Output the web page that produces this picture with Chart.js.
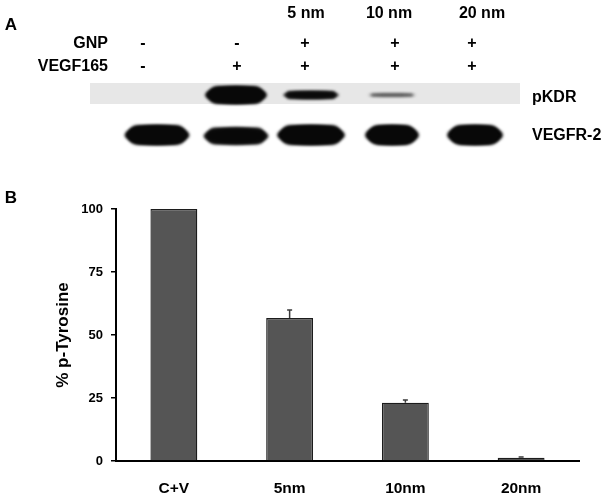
<!DOCTYPE html>
<html>
<head>
<meta charset="utf-8">
<script src="https://cdn.jsdelivr.net/npm/chart.js@4.4.1/dist/chart.umd.min.js"></script>
<style>
  body { margin: 0; background: #fff; }
  #page { position: relative; width: 607px; height: 498px; overflow: hidden; background: #fff; }
  #page canvas { position: absolute; left: 0; top: 0; }
  .lbl { position: absolute; font: bold 16px Arial, "Liberation Sans", sans-serif; color: #000; white-space: nowrap; line-height: 1; }
</style>
</head>
<body>
<div id="page">
  <canvas id="blot" width="607" height="170"></canvas>
  <canvas id="tyrChart" width="607" height="498"></canvas>
</div>
<script>
// Panel B data
const categories = ['C+V', '5nm', '10nm', '20nm'];
const tyrosinePct = [100, 56.7, 23.1, 1.3];
const tyrosineErr = [0, 3.2, 1.1, 0.3];
const yTicks = [0, 25, 50, 75, 100];

// Panel A: treatments per lane and relative band strength
const sizeHeaders = ['', '', '5 nm', '10 nm', '20 nm'];
const gnpSigns = ['-', '-', '+', '+', '+'];
const vegfSigns = ['-', '+', '+', '+', '+'];
const pkdrSignal = [0, 1, 0.9, 0.5, 0];
const vegfr2Signal = [1, 0.95, 1, 1, 1];

// blot geometry (picture layout, not data)
const signX = [143, 237, 305, 395, 472];
const headerX = [0, 0, 306, 389, 482];
const bandX = [157, 236, 311, 392, 475];
const pkdrW = [0, 62, 56, 48, 0];
const pkdrH = [0, 18, 8, 3, 0];
const vegfrW = [65, 65, 68, 54, 56];

const page = document.getElementById('page');

function addText(txt, x, y, align, size) {
    const d = document.createElement('div');
    d.className = 'lbl';
    d.textContent = txt;
    if (size) d.style.fontSize = size + 'px';
    d.style.top = y + 'px';
    if (align === 'right') {
        d.style.right = (607 - x) + 'px';
        d.style.transform = 'translateY(-50%)';
    } else if (align === 'left') {
        d.style.left = x + 'px';
        d.style.transform = 'translateY(-50%)';
    } else {
        d.style.left = x + 'px';
        d.style.transform = 'translate(-50%,-50%)';
    }
    page.appendChild(d);
}

// labels of panel A
addText('A', 11, 24, 'center', 17);
addText('B', 11, 197, 'center', 17);
sizeHeaders.forEach((h, i) => { if (h) addText(h, headerX[i], 13, 'center'); });
addText('GNP', 108, 43, 'right');
addText('VEGF165', 108, 66, 'right');
gnpSigns.forEach((s, i) => addText(s, signX[i], 43, 'center'));
vegfSigns.forEach((s, i) => addText(s, signX[i], 66, 'center'));
addText('pKDR', 532, 97, 'left');
addText('VEGFR-2', 532, 135, 'left');

// the blot itself
function drawBlot() {
    const ctx = document.getElementById('blot').getContext('2d');
    // pKDR membrane strip
    ctx.fillStyle = '#e7e7e7';
    ctx.fillRect(90, 83, 430, 21);

    function band(cx, cy, w, h, strength, blur) {
        if (!w || !strength) return;
        ctx.save();
        ctx.filter = 'blur(' + blur + 'px)';
        ctx.fillStyle = 'rgba(8,8,8,' + strength + ')';
        ctx.beginPath();
        ctx.ellipse(cx, cy, w / 2, h / 2, 0, 0, Math.PI * 2);
        ctx.fill();
        ctx.beginPath();
        ctx.roundRect(cx - w / 2 + 3, cy - h / 2, w - 6, h, h / 2);
        ctx.fill();
        ctx.restore();
    }

    pkdrSignal.forEach((s, i) => band(bandX[i], 95, pkdrW[i], pkdrH[i], s, 1.5));
    vegfr2Signal.forEach((s, i) => {
        const h = i === 1 ? 17 : 20;
        band(bandX[i], i === 1 ? 136 : 135, vegfrW[i], h, s, 1.8);
    });
}
drawBlot();

// error bars on top of each column
const errorBars = {
    id: 'errorBars',
    afterDatasetsDraw(chart) {
        const ctx = chart.ctx;
        const yScale = chart.scales.y;
        const meta = chart.getDatasetMeta(0);
        ctx.save();
        ctx.strokeStyle = '#3a3a3a';
        ctx.lineWidth = 1.5;
        meta.data.forEach((bar, i) => {
            if (!tyrosineErr[i]) return;
            const top = yScale.getPixelForValue(tyrosinePct[i] + tyrosineErr[i]);
            ctx.beginPath();
            ctx.moveTo(bar.x, bar.y);
            ctx.lineTo(bar.x, top);
            ctx.moveTo(bar.x - 2.5, top);
            ctx.lineTo(bar.x + 2.5, top);
            ctx.stroke();
        });
        ctx.restore();
    }
};

const font = 'Arial, "Liberation Sans", sans-serif';

new Chart(document.getElementById('tyrChart'), {
    type: 'bar',
    data: {
        labels: categories,
        datasets: [{
            data: tyrosinePct,
            backgroundColor: '#555555',
            borderColor: '#1c1c1c',
            borderWidth: 1.3,
            barPercentage: 0.405,
            categoryPercentage: 1
        }]
    },
    options: {
        responsive: false,
        animation: false,
        devicePixelRatio: 1,
        layout: { padding: { top: 209, right: 28, bottom: 0, left: 0 } },
        plugins: { legend: { display: false }, tooltip: { enabled: false } },
        scales: {
            x: {
                grid: { display: false },
                border: { display: true, color: '#000', width: 2 },
                ticks: { color: '#000', padding: 10, font: { family: font, size: 15.5, weight: 'bold' } },
                afterFit(scale) { scale.height = 37; }
            },
            y: {
                min: 0,
                max: 100,
                afterBuildTicks(scale) { scale.ticks = yTicks.map(v => ({ value: v })); },
                grid: { display: true, drawOnChartArea: false, drawTicks: true, tickLength: 5, color: '#000', lineWidth: 1.5 },
                border: { display: true, color: '#000', width: 2 },
                ticks: { color: '#000', padding: 8, font: { family: font, size: 13, weight: 'bold' } },
                title: {
                    display: true,
                    text: '% p-Tyrosine',
                    color: '#000',
                    padding: { top: 53, bottom: 0 },
                    font: { family: font, size: 17, weight: 'bold' }
                },
                afterFit(scale) { scale.width = 116; }
            }
        }
    },
    plugins: [errorBars]
});
</script>
</body>
</html>
